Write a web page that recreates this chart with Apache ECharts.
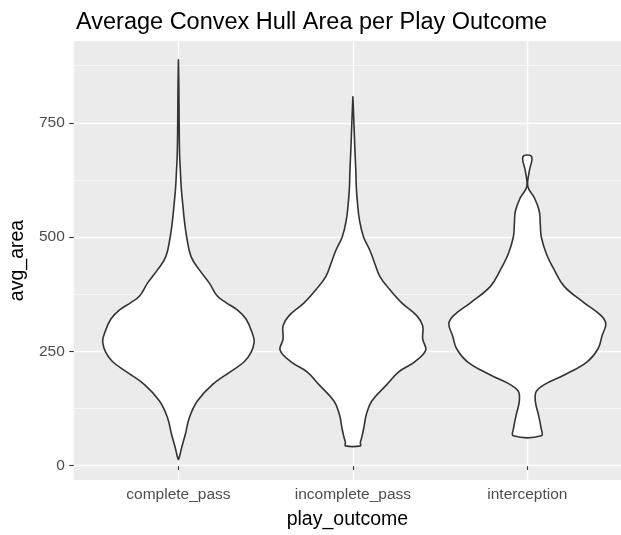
<!DOCTYPE html>
<html>
<head>
<meta charset="utf-8">
<title>Average Convex Hull Area per Play Outcome</title>
<script src="https://cdn.jsdelivr.net/npm/echarts@6/dist/echarts.min.js"></script>
<style>
  html, body { margin: 0; padding: 0; background: #ffffff; }
  #chart { width: 621px; height: 535px; }
</style>
</head>
<body>
<div id="chart"></div>
<script>
// Play outcome categories (x axis)
const categories = ['complete_pass', 'incomplete_pass', 'interception'];

// Y axis ticks
const majorTicks = [0, 250, 500, 750];
const minorTicks = [125, 375, 625, 875];

// Kernel density profiles: avg_area sample points and the relative density
// (1 = widest violin) at each of them, bottom to top.
const completeArea = [13, 19, 40, 69, 105, 141, 177, 205, 227, 248, 270, 284, 320, 342, 356, 371, 399, 428, 457, 500, 536, 572, 608, 644, 680, 751, 823, 888];
const completeDensity = [0, 0.013, 0.042, 0.089, 0.140, 0.241, 0.432, 0.660, 0.838, 0.927, 0.965, 0.952, 0.863, 0.737, 0.610, 0.495, 0.394, 0.267, 0.161, 0.105, 0.076, 0.055, 0.036, 0.025, 0.015, 0.009, 0.006, 0];

const incompleteArea = [43, 50, 62, 83, 112, 141, 177, 205, 227, 252, 277, 306, 328, 356, 385, 414, 442, 471, 500, 536, 572, 608, 644, 694, 751, 807];
const incompleteDensity = [0.095, 0.095, 0.114, 0.140, 0.172, 0.241, 0.432, 0.584, 0.787, 0.927, 0.889, 0.889, 0.813, 0.622, 0.470, 0.343, 0.279, 0.216, 0.136, 0.085, 0.060, 0.044, 0.038, 0.025, 0.013, 0];

const interceptionArea = [65, 83, 112, 141, 162, 177, 198, 227, 256, 284, 310, 328, 356, 392, 428, 464, 500, 529, 557, 586, 611, 644, 676];
const interceptionDensity = [0.178, 0.174, 0.140, 0.102, 0.114, 0.216, 0.470, 0.762, 0.902, 0.952, 1.0, 0.940, 0.724, 0.470, 0.343, 0.241, 0.178, 0.165, 0.152, 0.089, 0.006, 0.025, 0.055];

const profiles = [
  { area: completeArea, density: completeDensity },
  { area: incompleteArea, density: incompleteDensity },
  { area: interceptionArea, density: interceptionDensity }
];

// Half of the maximum violin width, in category units
const HALF_WIDTH = 0.45;

function renderViolin(params, api) {
  const idx = api.value(1);
  const centre = api.value(0);
  const prof = profiles[idx];
  const pts = [];
  for (let i = 0; i < prof.area.length; i++) {
    pts.push(api.coord([centre - prof.density[i] * HALF_WIDTH, prof.area[i]]));
  }
  for (let i = prof.area.length - 1; i >= 0; i--) {
    pts.push(api.coord([centre + prof.density[i] * HALF_WIDTH, prof.area[i]]));
  }
  return {
    type: 'polygon',
    shape: { points: pts, smooth: 0.4 },
    style: { fill: '#ffffff', stroke: '#333333', lineWidth: 1.6, lineJoin: 'round' }
  };
}

const FONT = 'Liberation Sans, Arial, Helvetica, sans-serif';
const chart = echarts.init(document.getElementById('chart'), null, { renderer: 'canvas' });

chart.setOption({
  animation: false,
  backgroundColor: '#ffffff',
  title: {
    text: 'Average Convex Hull Area per Play Outcome',
    left: 71,
    top: 6,
    textStyle: { fontFamily: FONT, fontSize: 23.5, fontWeight: 'normal', color: '#000000' }
  },
  grid: {
    left: 73, right: 0, top: 41, bottom: 48,
    show: true, backgroundColor: '#EBEBEB', borderWidth: 0
  },
  xAxis: {
    type: 'value',
    min: 0.4,
    max: 3.537,
    name: 'play_outcome',
    nameLocation: 'middle',
    nameGap: 30,
    nameTextStyle: { fontFamily: FONT, fontSize: 19.5, color: '#000000' },
    axisLine: { show: false },
    axisTick: {
      show: true, length: 4.5, customValues: [1, 2, 3],
      lineStyle: { color: '#333333', width: 1.1 }
    },
    axisLabel: {
      customValues: [1, 2, 3],
      margin: 7,
      fontFamily: FONT, fontSize: 15.5, color: '#4D4D4D',
      formatter: v => categories[Math.round(v) - 1]
    },
    splitLine: { show: true, lineStyle: { color: '#ffffff', width: 1.4 } }
  },
  yAxis: [{
    type: 'value',
    min: -31.7,
    max: 928.9,
    name: 'avg_area',
    nameLocation: 'middle',
    nameGap: 36,
    nameTextStyle: { fontFamily: FONT, fontSize: 19.5, color: '#000000' },
    axisLine: { show: false },
    axisTick: {
      show: true, length: 4.5, customValues: majorTicks,
      lineStyle: { color: '#333333', width: 1.1 }
    },
    axisLabel: {
      customValues: majorTicks,
      margin: 9,
      fontFamily: FONT, fontSize: 15.5, color: '#4D4D4D'
    },
    splitLine: { show: true, lineStyle: { color: '#ffffff', width: 1.4 } },
    z: 1
  }, {
    type: 'value',
    min: -31.7,
    max: 928.9,
    position: 'left',
    axisLine: { show: false },
    axisTick: { show: false, customValues: minorTicks },
    axisLabel: { show: false },
    splitLine: { show: true, lineStyle: { color: '#FAFAFA', width: 0.8 } },
    z: 0
  }],
  series: [{
    type: 'custom',
    renderItem: renderViolin,
    xAxisIndex: 0,
    yAxisIndex: 0,
    encode: { x: 0, y: -1 },
    clip: false,
    data: categories.map((c, i) => [i + 1, i]),
    z: 5
  }]
});
</script>
</body>
</html>
